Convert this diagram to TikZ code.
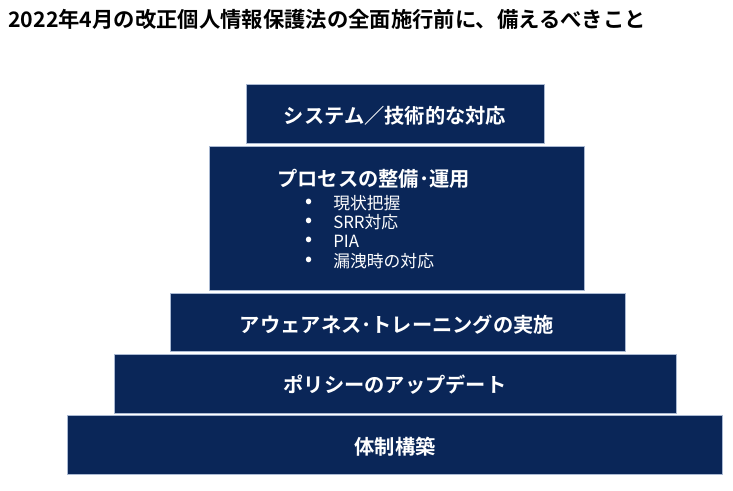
\documentclass[tikz,border=0pt]{standalone}
\usepackage{fontspec}
\newfontfamily\jp{Noto Sans CJK JP}[BoldFont={Noto Sans CJK JP Bold}]
\definecolor{navy}{RGB}{10,38,88}
\definecolor{edge}{RGB}{170,185,210}
\tikzset{
  tier/.style={fill=navy, draw=edge, line width=0.4pt, inner sep=0pt, outer sep=0pt},
  tiertext/.style={text=white, font=\jp\bfseries\fontsize{15.2pt}{18pt}\selectfont, inner sep=0pt},
  bulletmark/.style={text=white, font=\jp\bfseries\fontsize{14pt}{16pt}\selectfont, inner sep=0pt},
  bullettext/.style={text=white, font=\jp\fontsize{12.6pt}{15pt}\selectfont, inner sep=0pt, anchor=west},
  titletext/.style={text=black, font=\jp\bfseries\fontsize{16pt}{19pt}\selectfont, inner sep=0pt, anchor=west}
}
\begin{document}
\begin{tikzpicture}[x=0.75pt, y=-0.75pt]
\useasboundingbox (0,0) rectangle (733,490);
\fill[white] (0,0) rectangle (733,490);

\node[titletext] (title) at (8,19) {2022年4月の改正個人情報保護法の全面施行前に、備えるべきこと};

\node[tier, minimum width=223.5pt, minimum height=44.25pt] (b1) at (395,113.5) {};
\node[tier, minimum width=281.25pt, minimum height=108pt] (b2) at (396.5,218) {};
\node[tier, minimum width=341.25pt, minimum height=43.5pt] (b3) at (397.5,322) {};
\node[tier, minimum width=421.5pt, minimum height=44.25pt] (b4) at (395,383.5) {};
\node[tier, minimum width=491.25pt, minimum height=44.25pt] (b5) at (394.5,444.5) {};

\node[tiertext] (t1) at (395,116) {システム／技術的な対応};
\node[tiertext, anchor=west] (t2) at (277,179) {プロセスの整備･運用};
\node[tiertext] (t3) at (397,325) {アウェアネス･トレーニングの実施};
\node[tiertext] (t4) at (395,385) {ポリシーのアップデート};
\node[tiertext] (t5) at (395,447) {体制構築};

\node[bulletmark] (m1) at (309,203) {•};
\node[bulletmark] (m2) at (309,222) {•};
\node[bulletmark] (m3) at (309,241) {•};
\node[bulletmark] (m4) at (309,261) {•};
\node[bullettext] (l1) at (333,203) {現状把握};
\node[bullettext] (l2) at (333,222) {SRR対応};
\node[bullettext] (l3) at (333,241) {PIA};
\node[bullettext] (l4) at (333,261) {漏洩時の対応};
\end{tikzpicture}
\end{document}
